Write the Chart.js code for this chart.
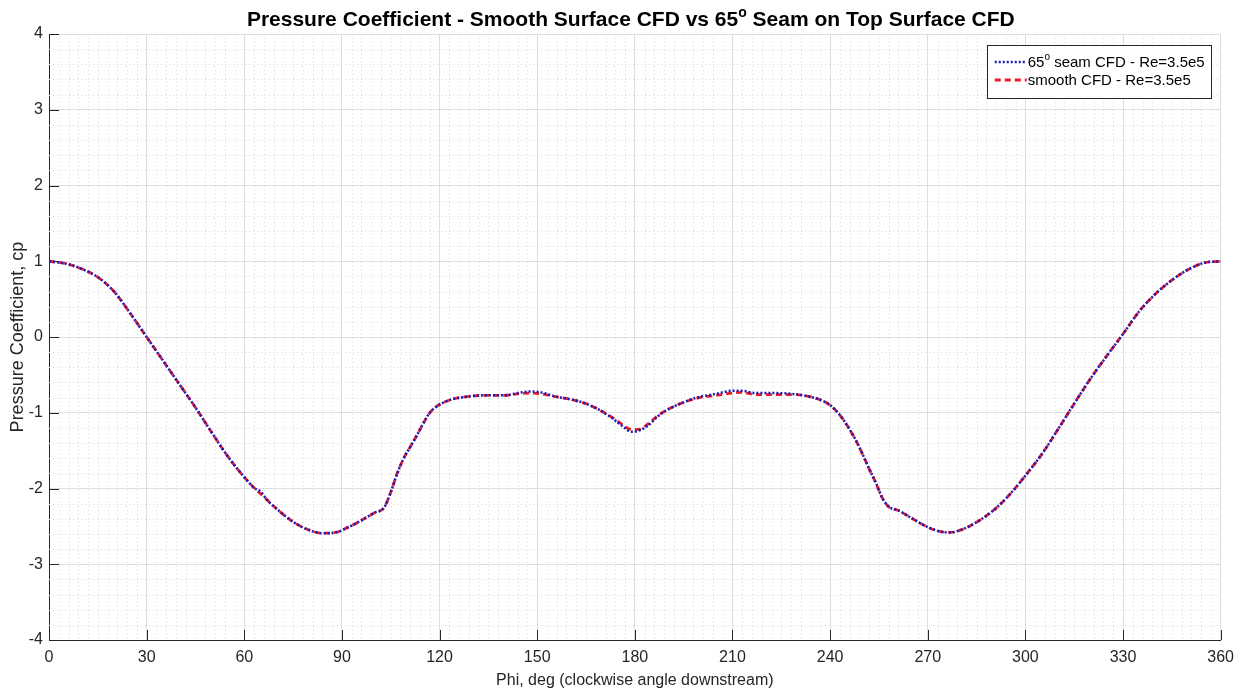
<!DOCTYPE html>
<html>
<head>
<meta charset="utf-8">
<script src="https://cdn.jsdelivr.net/npm/chart.js@4.4.1/dist/chart.umd.min.js"></script>
<style>
  html, body { margin: 0; padding: 0; background: #fff; }
  canvas { display: block; }
</style>
</head>
<body>
<canvas id="cpChart" width="1242" height="694"></canvas>
<script>
// circumferential angle, deg
const phiDeg = [0, 5, 10, 15, 20, 25, 30, 35, 40, 45, 50, 55, 60, 63, 65, 67, 70, 75, 80, 84,
  88, 92, 96, 100, 103, 105, 107, 109, 111, 113, 115, 117, 119, 121, 124, 128, 134, 140, 144, 148,
  151, 156, 161, 165, 169, 173, 176, 179, 181, 184, 187, 190, 194, 199, 205, 210, 213, 217, 222, 228,
  233, 237, 240, 243, 246, 248, 250, 252, 254, 256, 258, 261, 265, 270, 274, 277, 280, 284, 288, 292,
  296, 300, 305, 310, 315, 320, 325, 330, 335, 340, 345, 350, 355, 360];

// cp, 65 deg seam on top surface
const cpSeam = [1.00, 0.97, 0.90, 0.79, 0.60, 0.31, 0.00, -0.31, -0.62, -0.93, -1.26, -1.58, -1.85, -1.99, -2.04, -2.15, -2.27, -2.44, -2.55, -2.59,
  -2.58, -2.51, -2.42, -2.32, -2.25, -2.05, -1.80, -1.60, -1.45, -1.30, -1.14, -1.00, -0.92, -0.87, -0.82, -0.79, -0.77, -0.77, -0.74, -0.72,
  -0.73, -0.79, -0.83, -0.88, -0.96, -1.07, -1.17, -1.25, -1.24, -1.17, -1.05, -0.96, -0.88, -0.80, -0.75, -0.71, -0.71, -0.74, -0.74, -0.75,
  -0.78, -0.83, -0.90, -1.03, -1.22, -1.37, -1.55, -1.74, -1.92, -2.12, -2.24, -2.29, -2.39, -2.51, -2.57, -2.58, -2.55, -2.47, -2.36, -2.22,
  -2.04, -1.83, -1.55, -1.22, -0.88, -0.55, -0.25, 0.04, 0.34, 0.57, 0.75, 0.89, 0.98, 1.00];

// cp, smooth surface
const cpSmooth = [1.00, 0.97, 0.90, 0.79, 0.60, 0.31, 0.00, -0.31, -0.62, -0.93, -1.26, -1.58, -1.85, -1.99, -2.07, -2.15, -2.27, -2.44, -2.55, -2.59,
  -2.58, -2.51, -2.42, -2.32, -2.25, -2.05, -1.80, -1.60, -1.45, -1.30, -1.14, -1.00, -0.92, -0.87, -0.82, -0.79, -0.77, -0.77, -0.75, -0.74,
  -0.75, -0.79, -0.83, -0.88, -0.96, -1.06, -1.15, -1.22, -1.22, -1.15, -1.04, -0.96, -0.88, -0.81, -0.77, -0.74, -0.73, -0.76, -0.76, -0.76,
  -0.78, -0.83, -0.90, -1.03, -1.22, -1.37, -1.55, -1.74, -1.92, -2.12, -2.24, -2.29, -2.39, -2.51, -2.57, -2.58, -2.55, -2.47, -2.36, -2.22,
  -2.04, -1.83, -1.55, -1.22, -0.88, -0.55, -0.25, 0.04, 0.34, 0.57, 0.75, 0.89, 0.98, 1.00];

const titleText = 'Pressure Coefficient - Smooth Surface CFD vs 65^{o} Seam on Top Surface CFD';
const seriesLabels = ['65^{o} seam CFD - Re=3.5e5', 'smooth CFD - Re=3.5e5'];

const FONT = '"Liberation Sans", Arial, Helvetica, sans-serif';
const AXIS_COLOR = '#262626';

// split "a^{b}c" into plain / superscript runs
function richRuns(str) {
  return str.split(/\^\{(.*?)\}/).map((s, i) => ({ text: s, sup: i % 2 === 1 }));
}

function richWidth(ctx, str, size, weight, supSize) {
  let w = 0;
  richRuns(str).forEach(r => {
    ctx.font = `${weight} ${r.sup ? supSize : size}px ${FONT}`;
    w += ctx.measureText(r.text).width;
  });
  return w;
}

function drawRich(ctx, str, x, y, size, weight, supSize, rise) {
  ctx.textAlign = 'left';
  ctx.textBaseline = 'alphabetic';
  richRuns(str).forEach(r => {
    ctx.font = `${weight} ${r.sup ? supSize : size}px ${FONT}`;
    ctx.fillText(r.text, x, r.sup ? y - rise : y);
    x += ctx.measureText(r.text).width;
  });
}

// minor dotted grid plus inward tick marks
const minorGrid = {
  id: 'minorGrid',
  beforeDatasetsDraw(chart) {
    const { ctx, chartArea: a, scales: { x, y } } = chart;
    ctx.save();
    ctx.strokeStyle = '#d8d8d8';
    ctx.lineWidth = 1;
    ctx.setLineDash([1, 3]);
    ctx.beginPath();
    for (let v = 3; v < 360; v += 3) {
      if (v % 30 === 0) continue;
      const px = Math.round(x.getPixelForValue(v)) + 0.5;
      ctx.moveTo(px, a.top);
      ctx.lineTo(px, a.bottom);
    }
    for (let i = -19; i < 20; i++) {
      if (i % 5 === 0) continue;
      const py = Math.round(y.getPixelForValue(i / 5)) + 0.5;
      ctx.moveTo(a.left, py);
      ctx.lineTo(a.right, py);
    }
    ctx.stroke();

    ctx.setLineDash([]);
    ctx.strokeStyle = AXIS_COLOR;
    ctx.beginPath();
    x.ticks.forEach(t => {
      const px = Math.round(x.getPixelForValue(t.value)) + 0.5;
      ctx.moveTo(px, a.bottom);
      ctx.lineTo(px, a.bottom - 10);
    });
    y.ticks.forEach(t => {
      const py = Math.round(y.getPixelForValue(t.value)) + 0.5;
      ctx.moveTo(a.left, py);
      ctx.lineTo(a.left + 10, py);
    });
    ctx.stroke();
    ctx.restore();
  }
};

// title with superscript degree mark
const richTitle = {
  id: 'richTitle',
  afterDraw(chart) {
    const { ctx, chartArea: a } = chart;
    ctx.save();
    ctx.fillStyle = '#000';
    const w = richWidth(ctx, titleText, 21, 'bold', 14);
    drawRich(ctx, titleText, (a.left + a.right) / 2 - w / 2 - 4, 26, 21, 'bold', 14, 9);
    ctx.restore();
  }
};

// boxed legend in the upper right corner
const boxLegend = {
  id: 'boxLegend',
  afterDatasetsDraw(chart) {
    const { ctx, chartArea: a } = chart;
    const sets = chart.data.datasets;
    ctx.save();
    let tw = 0;
    sets.forEach(ds => { tw = Math.max(tw, richWidth(ctx, ds.label, 15, 'normal', 10)); });
    const boxW = 8 + 32 + 1 + tw + 6;
    const boxH = 53;
    const left = a.right - 10 - boxW;
    const top = a.top + 11;
    ctx.fillStyle = '#fff';
    ctx.fillRect(left, top, boxW, boxH);
    ctx.strokeStyle = AXIS_COLOR;
    ctx.lineWidth = 1;
    ctx.strokeRect(Math.round(left) + 0.5, top + 0.5, Math.round(boxW), boxH);
    sets.forEach((ds, i) => {
      const cy = top + 17 + i * 18;
      ctx.strokeStyle = ds.borderColor;
      ctx.lineWidth = ds.borderWidth;
      ctx.setLineDash(ds.borderDash);
      ctx.beginPath();
      ctx.moveTo(left + 8, cy);
      ctx.lineTo(left + 40, cy);
      ctx.stroke();
      ctx.fillStyle = '#000';
      drawRich(ctx, ds.label, left + 41, cy + 5, 15, 'normal', 10, 7);
    });
    ctx.restore();
  }
};

new Chart(document.getElementById('cpChart'), {
  type: 'line',
  data: {
    datasets: [
      {
        label: seriesLabels[0],
        data: phiDeg.map((p, i) => ({ x: p, y: cpSeam[i] })),
        borderColor: '#1a1ab8',
        borderWidth: 2.5,
        borderDash: [2, 2],
        pointRadius: 0,
        cubicInterpolationMode: 'monotone',
        fill: false
      },
      {
        label: seriesLabels[1],
        data: phiDeg.map((p, i) => ({ x: p, y: cpSmooth[i] })),
        borderColor: '#ec1c24',
        borderWidth: 2.8,
        borderDash: [6, 4],
        pointRadius: 0,
        cubicInterpolationMode: 'monotone',
        fill: false
      }
    ]
  },
  options: {
    responsive: false,
    animation: false,
    devicePixelRatio: 1,
    layout: { padding: { top: 34, right: 21, left: 0, bottom: 0 } },
    plugins: {
      legend: { display: false },
      title: { display: false },
      tooltip: { enabled: false }
    },
    scales: {
      x: {
        type: 'linear',
        min: 0,
        max: 360,
        afterFit: s => { s.height = 54; },
        ticks: { stepSize: 30, color: AXIS_COLOR, padding: 8, maxRotation: 0, font: { family: FONT, size: 16 } },
        grid: { color: '#dedede', drawTicks: false },
        border: { color: AXIS_COLOR, width: 1 },
        title: {
          display: true,
          text: 'Phi, deg (clockwise angle downstream)',
          color: AXIS_COLOR,
          font: { family: FONT, size: 16 },
          padding: { top: 0, bottom: 4 }
        }
      },
      y: {
        type: 'linear',
        min: -4,
        max: 4,
        afterFit: s => { s.width = 49; },
        ticks: { stepSize: 1, color: AXIS_COLOR, padding: 6, font: { family: FONT, size: 16 } },
        grid: { color: '#dedede', drawTicks: false },
        border: { color: AXIS_COLOR, width: 1 },
        title: {
          display: true,
          text: 'Pressure Coefficient, cp',
          color: AXIS_COLOR,
          font: { family: FONT, size: 18 },
          padding: { top: 7, bottom: 0 }
        }
      }
    }
  },
  plugins: [minorGrid, boxLegend, richTitle]
});
</script>
</body>
</html>
